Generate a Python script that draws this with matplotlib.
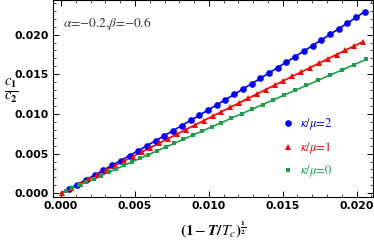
import matplotlib.pyplot as plt
from matplotlib.ticker import MultipleLocator

plt.rcParams['mathtext.fontset'] = 'stix'

# kappa/mu = 2
x_blue = [0.0005, 0.00109, 0.00168, 0.00227, 0.00286, 0.00345, 0.00404, 0.00463, 0.00522,
          0.00581, 0.0064, 0.00699, 0.00758, 0.00817, 0.00876, 0.00935, 0.00994, 0.01053,
          0.01112, 0.01171, 0.0123, 0.01289, 0.01348, 0.01407, 0.01466, 0.01525, 0.01584,
          0.01643, 0.01702, 0.01761, 0.0182, 0.01879, 0.01938, 0.01997, 0.02056]
y_blue = [0.0005, 0.0011, 0.0017, 0.0023, 0.00291, 0.00352, 0.00413, 0.00475, 0.00537,
          0.006, 0.00663, 0.00726, 0.0079, 0.00854, 0.00918, 0.00983, 0.01048, 0.01114,
          0.0118, 0.01246, 0.01313, 0.0138, 0.01448, 0.01516, 0.01584, 0.01653, 0.01722,
          0.01791, 0.01861, 0.01932, 0.02002, 0.02073, 0.02145, 0.02216, 0.02289]

# kappa/mu = 1
x_red = [0.00005, 0.00065, 0.00125, 0.00185, 0.00245, 0.00305, 0.00365, 0.00425, 0.00485,
         0.00545, 0.00605, 0.00665, 0.00725, 0.00785, 0.00845, 0.00905, 0.00965, 0.01025,
         0.01085, 0.01145, 0.01205, 0.01265, 0.01325, 0.01385, 0.01445, 0.01505, 0.01565,
         0.01625, 0.01685, 0.01745, 0.01805, 0.01865, 0.01925, 0.01985, 0.02045]
y_red = [0.00005, 0.00062, 0.0012, 0.00177, 0.00235, 0.00292, 0.00349, 0.00406, 0.00463,
         0.0052, 0.00576, 0.00633, 0.0069, 0.00746, 0.00803, 0.00859, 0.00915, 0.00971,
         0.01028, 0.01083, 0.01139, 0.01195, 0.01251, 0.01307, 0.01362, 0.01418, 0.01473,
         0.01528, 0.01584, 0.01639, 0.01694, 0.01749, 0.01804, 0.01858, 0.01913]

# kappa/mu = 0
x_green = [0.0003, 0.00076, 0.00123, 0.00171, 0.0022, 0.0027, 0.00321, 0.00373, 0.00426,
           0.0048, 0.00535, 0.00591, 0.00648, 0.00707, 0.00767, 0.00828, 0.0089, 0.00954,
           0.01019, 0.01085, 0.01153, 0.01222, 0.01292, 0.01364, 0.01437, 0.01512, 0.01585,
           0.01661, 0.01739, 0.01818, 0.01899, 0.01981, 0.02065]
y_green = [0.00025, 0.00063, 0.00101, 0.00141, 0.00181, 0.00222, 0.00264, 0.00307, 0.00351,
           0.00395, 0.0044, 0.00486, 0.00533, 0.00581, 0.0063, 0.0068, 0.00731, 0.00783,
           0.00837, 0.0089, 0.00946, 0.01002, 0.01059, 0.01118, 0.01177, 0.01238, 0.01298,
           0.01359, 0.01423, 0.01487, 0.01552, 0.01619, 0.01687]

labels = [r'$\kappa/\mu$=2', r'$\kappa/\mu$=1', r'$\kappa/\mu$=0']
colors = ['#0000ff', '#ff0000', '#1f9e4a']

fig = plt.figure(figsize=(3.74, 2.43), dpi=100)
ax = fig.add_axes([0.1417, 0.189, 0.855, 0.809])

series = [(x_blue, y_blue, 'o', 4.8), (x_red, y_red, '^', 3.8), (x_green, y_green, 's', 3.0)]
for (xs, ys, mk, ms), c, lab in zip(series, colors, labels):
    ax.plot([0] + xs, [0] + ys, color=c, lw=1.2, zorder=2)
    ax.plot(xs, ys, mk, color=c, ms=ms, mew=0, label=lab, zorder=3)

ax.set_xlim(-0.00055, 0.0211)
ax.set_ylim(-0.00048, 0.0243)
ax.xaxis.set_major_locator(MultipleLocator(0.005))
ax.xaxis.set_minor_locator(MultipleLocator(0.001))
ax.yaxis.set_major_locator(MultipleLocator(0.005))
ax.yaxis.set_minor_locator(MultipleLocator(0.001))
ax.xaxis.set_major_formatter(lambda v, p: f"{v:.3f}")
ax.yaxis.set_major_formatter(lambda v, p: f"{v:.3f}")
ax.tick_params(which='both', direction='in', top=True, right=True, labelsize=7.8, pad=3)
ax.tick_params(which='major', length=4, width=0.7)
ax.tick_params(which='minor', length=2, width=0.5)
for lbl in ax.get_xticklabels() + ax.get_yticklabels():
    lbl.set_fontweight('bold')
for s in ax.spines.values():
    s.set_linewidth(0.8)

ax.text(0.0001, 0.0214, r'$\alpha$=$-$0.2,$\beta$=$-$0.6', fontsize=9.5, color='#333333',
        family='STIXGeneral', va='center')

fig.text(0.03, 0.625, r'$\mathbf{\frac{\mathit{c}_1}{\mathit{c}_2}}$', fontsize=15,
         ha='center', va='center')
fig.text(0.57, 0.055, r'$\mathbf{(1}-\boldsymbol{T/T_c}\mathbf{)^{\frac{1}{2}}}$', fontsize=11,
         ha='center', va='center')

ax.legend(loc='center left', bbox_to_anchor=(0.714, 0.25), frameon=False,
          labelcolor='linecolor', handletextpad=0.5, handlelength=1.0, labelspacing=0.6,
          borderpad=0, borderaxespad=0, prop={'family': 'STIXGeneral', 'size': 9})

fig.savefig('out.png', dpi=100)
